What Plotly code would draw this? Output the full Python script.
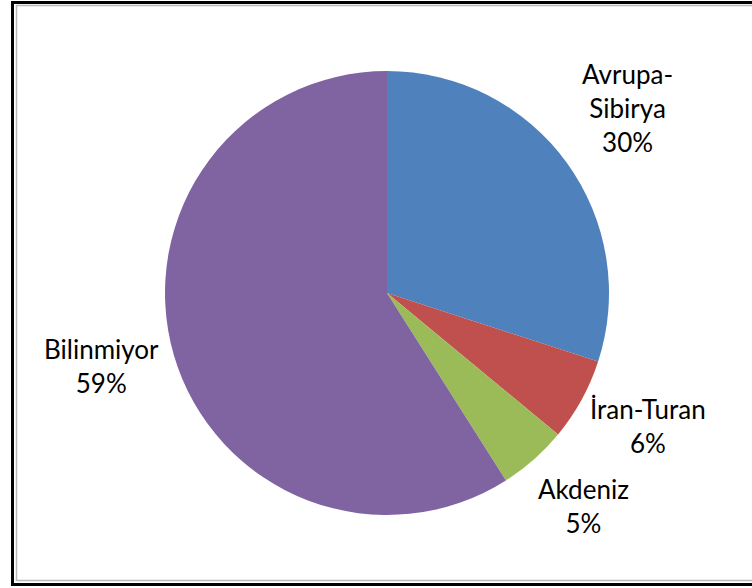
import math
import plotly.graph_objects as go

regions = ["Avrupa-Sibirya", "İran-Turan", "Akdeniz", "Bilinmiyor"]
label_text = ["Avrupa-<br>Sibirya", "İran-Turan", "Akdeniz", "Bilinmiyor"]
shares = [30, 6, 5, 59]
colors = ["#4F81BD", "#C0504D", "#9BBB59", "#8064A2"]

W, H = 752, 588
cx, cy, r = 387, 293, 222   # pie centre / radius in pixels
lab_k = 1.34                # label distance as multiple of radius

fig = go.Figure()
fig.add_trace(go.Pie(
    labels=regions,
    values=shares,
    marker=dict(colors=colors, line=dict(width=0)),
    sort=False,
    direction="clockwise",
    rotation=0,
    textinfo="none",
    showlegend=False,
    hoverinfo="label+percent",
    domain=dict(x=[(cx - r) / W, (cx + r) / W], y=[1 - (cy + r) / H, 1 - (cy - r) / H]),
))

# data labels outside each slice, at its mid angle
total = sum(shares)
cum = 0
for txt, v in zip(label_text, shares):
    mid = (cum + v / 2) / total * 2 * math.pi
    cum += v
    px = cx + lab_k * r * math.sin(mid)
    py = cy - lab_k * r * math.cos(mid)
    fig.add_annotation(
        x=px / W, y=1 - py / H, xref="paper", yref="paper",
        text=f"{txt}<br>{round(v / total * 100)}%",
        showarrow=False, align="center", xanchor="center", yanchor="middle",
        yshift=10,
        font=dict(family="Lato, Open Sans, sans-serif", size=26, color="#000000"),
    )

# chart frame (right side runs off the picture)
fig.add_shape(type="rect", xref="paper", yref="paper",
              x0=12.5 / W, x1=770 / W, y0=1 - 584.5 / H, y1=1 - 2.5 / H,
              line=dict(color="#000000", width=3))
fig.add_shape(type="rect", xref="paper", yref="paper",
              x0=16.5 / W, x1=770 / W, y0=1 - 580.5 / H, y1=1 - 5.5 / H,
              line=dict(color="#b8b8b8", width=1.5))

fig.update_layout(
    width=W, height=H,
    margin=dict(l=0, r=0, t=0, b=0),
    paper_bgcolor="white",
    plot_bgcolor="white",
)

fig.write_html("out.html", config={"displayModeBar": False},
               post_script="document.body.style.margin='0';")
